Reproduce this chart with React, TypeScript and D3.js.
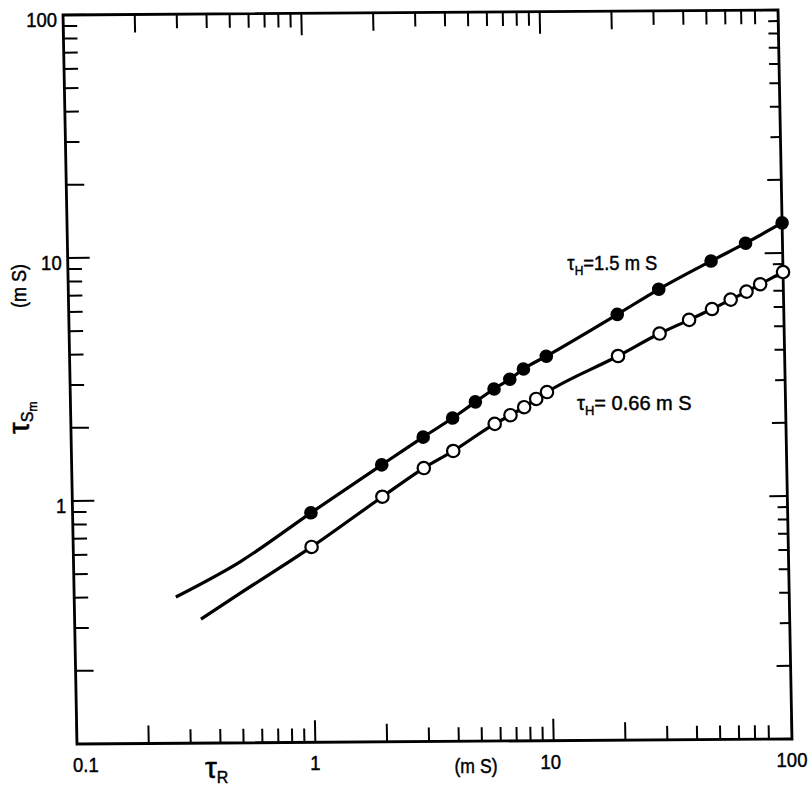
import React from "react";
import * as d3 from "d3";

// ---- data ----
const filledX = [1, 2, 3, 4, 5, 6, 7, 8, 10, 20, 30, 50, 70, 100];
const filledY = [0.88, 1.38, 1.79, 2.14, 2.49, 2.81, 3.08, 3.39, 3.82, 5.65, 7.15, 9.31, 11.0, 13.3];
const openX = [1, 2, 3, 4, 6, 7, 8, 9, 10, 20, 30, 40, 50, 60, 70, 80, 100];
const openY = [0.637, 1.02, 1.335, 1.566, 2.02, 2.19, 2.36, 2.55, 2.72, 3.81, 4.7, 5.34, 5.91, 6.45, 6.95, 7.45, 8.35];
// curve continuation to the left of the first measured point
const filledLeadX = [0.267, 0.5];
const filledLeadY = [0.4, 0.556];
const openLeadX = [0.339, 0.5];
const openLeadY = [0.324, 0.414];

const xMajor = [0.1, 1, 10, 100];
const xMajorLabels = ["0.1", "1", "10", "100"];
const xMinor = [0.2, 0.3, 0.4, 0.5, 0.6, 0.7, 0.8, 0.9, 2, 3, 4, 5, 6, 7, 8, 9, 20, 30, 40, 50, 60, 70, 80];
const yMajor = [1, 10, 100];
const yMajorLabels = ["1", "10", "100"];
const yMinor = [0.2, 0.3, 0.4, 0.5, 0.6, 0.7, 0.8, 0.9, 2, 3, 4, 5, 6, 7, 8, 9, 20, 30, 40, 50, 60, 70, 80, 90];

const W = 715;
const H = 729;
// slight skew of the scanned page
const M = { a: 1, b: -5 / 715, c: 14 / 729, d: 1, e: 63, f: 15 };
const proj = (u: number, v: number) => [M.a * u + M.c * v + M.e, M.b * u + M.d * v + M.f];

const FONT = "'Liberation Sans', Arial, sans-serif";

function NText(props: {
  x: number;
  y: number;
  sx?: number;
  size: number;
  anchor?: string;
  children: React.ReactNode;
}) {
  const { x, y, sx = 0.88, size, anchor = "start", children } = props;
  return (
    <text
      transform={`translate(${x},${y}) scale(${sx},1)`}
      fontSize={size}
      textAnchor={anchor}
      stroke="#000"
      strokeWidth={0.45}
    >
      {children}
    </text>
  );
}

export default function App() {
  const x = d3.scaleLog().domain([0.1, 100]).range([0, W]);
  const y = d3.scaleLog().domain([0.1, 100]).range([H, 0]);

  const filledCurve = [...filledLeadX.map((v, i) => [v, filledLeadY[i]]), ...filledX.map((v, i) => [v, filledY[i]])];
  const openCurve = [...openLeadX.map((v, i) => [v, openLeadY[i]]), ...openX.map((v, i) => [v, openY[i]])];

  const line = d3
    .line<number[]>()
    .x((d) => x(d[0]))
    .y((d) => y(d[1]))
    .curve(d3.curveMonotoneX);

  const tickLen = (v: number, major: boolean) => {
    if (major) return 22;
    const m = v / Math.pow(10, Math.floor(Math.log10(v) + 1e-9));
    return Math.round(m) === 2 ? 18 : 14;
  };

  const sw = 2;
  const ticks: JSX.Element[] = [];
  const xt = [...xMajor.map((v) => [v, 1]), ...xMinor.map((v) => [v, 0])];
  xt.forEach(([v, mj], i) => {
    const L = tickLen(v, !!mj);
    ticks.push(<line key={"b" + i} x1={x(v)} x2={x(v)} y1={H} y2={H - L} stroke="#000" strokeWidth={sw} />);
    ticks.push(<line key={"t" + i} x1={x(v)} x2={x(v)} y1={0} y2={L} stroke="#000" strokeWidth={sw} />);
  });
  const yt = [...yMajor.map((v) => [v, 1]), ...yMinor.map((v) => [v, 0])];
  yt.forEach(([v, mj], i) => {
    const L = tickLen(v, !!mj);
    ticks.push(<line key={"l" + i} x1={0} x2={L} y1={y(v)} y2={y(v)} stroke="#000" strokeWidth={sw} />);
    ticks.push(<line key={"r" + i} x1={W} x2={W - L + 4} y1={y(v)} y2={y(v)} stroke="#000" strokeWidth={sw} />);
  });

  // annotation anchors (plot coords near the curves)
  const a1 = proj(x(20) - 49, y(5.65) - 45);
  const a2 = proj(x(20) - 42, y(3.81) + 54);

  return (
    <svg
      width={811}
      height={788}
      style={{ position: "absolute", left: 0, top: 0, background: "#fff" }}
      fontFamily={FONT}
    >
      <rect width={811} height={788} fill="#fff" />
      <g transform={`matrix(${M.a} ${M.b} ${M.c} ${M.d} ${M.e} ${M.f})`}>
        <rect x={0} y={0} width={W} height={H} fill="none" stroke="#000" strokeWidth={2.8} />
        {ticks}
        <path d={line(filledCurve) || ""} fill="none" stroke="#000" strokeWidth={3.2} />
        <path d={line(openCurve) || ""} fill="none" stroke="#000" strokeWidth={3.2} />
        {filledX.map((v, i) => (
          <circle key={"f" + i} cx={x(v)} cy={y(filledY[i])} r={6.8} fill="#000" />
        ))}
        {openX.map((v, i) => (
          <circle key={"o" + i} cx={x(v)} cy={y(openY[i])} r={6.2} fill="#fff" stroke="#000" strokeWidth={2.2} />
        ))}
      </g>

      {/* x tick labels */}
      {xMajor.map((v, i) => {
        const p = proj(x(v), H);
        const first = i === 0;
        return (
          <NText
            key={"xl" + i}
            x={first ? p[0] - 4 : p[0] - (i === 2 ? 3 : 0)}
            y={p[1] + 28}
            size={21}
            anchor={first ? "start" : "middle"}
          >
            {xMajorLabels[i]}
          </NText>
        );
      })}
      {/* y tick labels */}
      {yMajor.map((v, i) => {
        const p = proj(0, y(v));
        return (
          <NText key={"yl" + i} x={p[0] - 6} y={p[1] + 12} size={21} anchor="end">
            {yMajorLabels[i]}
          </NText>
        );
      })}

      {/* axis titles */}
      <NText x={205} y={778} size={30} sx={1}>
        τ<tspan fontSize={16} dy={5}>R</tspan>
      </NText>
      <NText x={476} y={773} size={20} anchor="middle">
        (m S)
      </NText>
      <text
        transform="translate(26,286) rotate(-90) scale(0.9,1)"
        fontSize={20}
        textAnchor="middle"
        stroke="#000"
        strokeWidth={0.45}
      >
        (m S)
      </text>
      <text transform="translate(29,434) rotate(-90)" fontSize={30} stroke="#000" strokeWidth={0.45}>
        τ<tspan fontSize={16} dy={4}>S</tspan>
        <tspan fontSize={12} dy={4}>m</tspan>
      </text>

      {/* curve annotations */}
      <NText x={a1[0]} y={a1[1]} size={20} sx={0.92}>
        τ<tspan fontSize={13} dy={5}>H</tspan>
        <tspan dy={-5}>=1.5 m S</tspan>
      </NText>
      <NText x={a2[0]} y={a2[1]} size={20} sx={1.0}>
        τ<tspan fontSize={13} dy={5}>H</tspan>
        <tspan dy={-5}>= 0.66 m S</tspan>
      </NText>
    </svg>
  );
}
